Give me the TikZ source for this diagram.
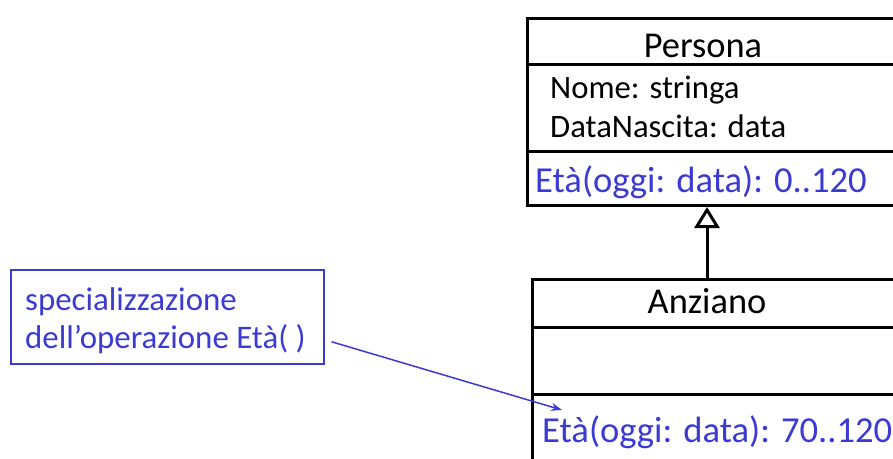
\documentclass[tikz,border=0pt]{standalone}
\usepackage{fontspec}
\setmainfont{Carlito}
\usetikzlibrary{arrows.meta}
\definecolor{noteblue}{RGB}{59,59,211}

\begin{document}
\begin{tikzpicture}[x=1pt, y=-1pt,
    classbox/.style={draw=black, line width=3pt, rectangle, inner sep=0pt, anchor=north west, minimum width=420pt},
    sep/.style={black, line width=3pt},
    blk/.style={inner sep=0pt, font=\fontsize{32.7}{39}\selectfont, text=black},
    head/.style={inner sep=0pt, anchor=base, font=\fontsize{36.4}{44}\selectfont, text=black},
    op/.style={inner sep=0pt, anchor=base west, font=\fontsize{36.6}{44}\selectfont, text=noteblue},
    notebox/.style={draw=noteblue, line width=1.5pt, rectangle, inner sep=0pt, anchor=north west},
    notetext/.style={inner sep=0pt, anchor=base west, font=\fontsize{32.9}{39}\selectfont, text=noteblue}]
		\useasboundingbox (0,0) rectangle (893,458);
		\clip (0,0) rectangle (893,458);

		% classe Persona
		\node[classbox, minimum height=187pt] (persona) at (526,17) {};
		\draw[sep] ([yshift=-47pt]persona.north west) -- ([yshift=-47pt]persona.north east);
		\draw[sep] ([yshift=-134pt]persona.north west) -- ([yshift=-134pt]persona.north east);
		\node[head] (perslabel) at (703,57) {Persona};
		\node[blk, anchor=base west] (nome) at (550,98) {Nome: stringa};
		\node[blk, anchor=base west] (datanascita) at (550,137) {DataNascita: data};
		\node[op] (etapers) at (535,192) {Età(oggi: data): 0..120};

		% classe Anziano
		\node[classbox, minimum height=250pt] (anziano) at (531,278) {};
		\draw[sep] ([yshift=-49pt]anziano.north west) -- ([yshift=-49pt]anziano.north east);
		\draw[sep] ([yshift=-116pt]anziano.north west) -- ([yshift=-116pt]anziano.north east);
		\node[head] (anzlabel) at (707,313) {Anziano};
		\node[op] (etaanz) at (542,442) {Età(oggi: data): 70..120};

		% generalizzazione
		\draw[black, line width=3pt, -{Triangle[open, width=25pt, length=21pt]}] (anzlabel |- anziano.north) -- (anzlabel |- persona.south);

		% nota
		\node[notebox, minimum width=313pt, minimum height=94pt] (note) at (10,269) {};
		\node[notetext] (notel1) at (25,310) {specializzazione};
		\node[notetext] (notel2) at (25,348) {dell’operazione Età( )};
		\coordinate (notetip) at (562,410);
		\draw[noteblue, line width=1.5pt, -{Stealth[length=11pt, width=8pt]}] ([shift={(7pt,-25pt)}]note.east) -- (notetip);

	\end{tikzpicture}
\end{document}
